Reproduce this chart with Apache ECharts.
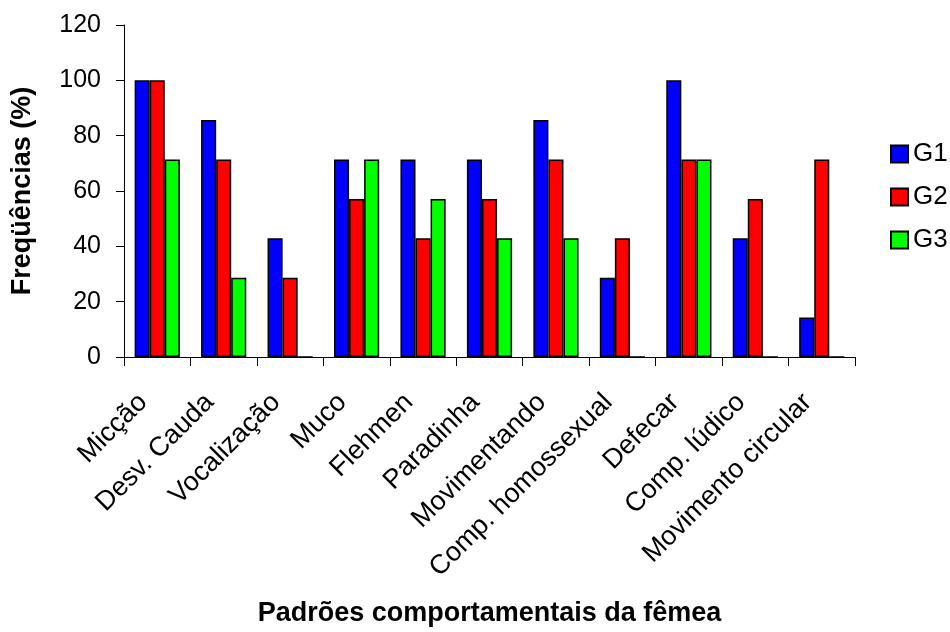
<!DOCTYPE html>
<html>
<head>
<meta charset="utf-8">
<script src="https://cdn.jsdelivr.net/npm/echarts@6/dist/echarts.min.js"></script>
<style>
  html, body { margin: 0; padding: 0; background: #fff; }
  #chart { width: 950px; height: 632px; }
</style>
</head>
<body>
<div id="chart"></div>
<script>
// Behaviour patterns observed in the females and their frequency (%) per group
const categories = [
  'Micção', 'Desv. Cauda', 'Vocalização', 'Muco', 'Flehmen', 'Paradinha',
  'Movimentando', 'Comp. homossexual', 'Defecar', 'Comp. lúdico', 'Movimento circular'
];
const groupNames = ['G1', 'G2', 'G3'];
const g1 = [100, 85.7, 42.9, 71.4, 71.4, 71.4, 85.7, 28.6, 100, 42.9, 14.3];
const g2 = [100, 71.4, 28.6, 57.1, 42.9, 57.1, 71.4, 42.9, 71.4, 57.1, 71.4];
const g3 = [71.4, 28.6, 0, 71.4, 57.1, 42.9, 42.9, 0, 71.4, 0, 0];
const yTicks = { min: 0, max: 120, interval: 20 };

const FONT = 'Liberation Sans, Arial, sans-serif';
const colors = ['#0000FF', '#FF0000', '#00FF00'];
const seriesValues = [g1, g2, g3];

const chart = echarts.init(document.getElementById('chart'), null, { renderer: 'canvas' });

chart.setOption({
  animation: false,
  backgroundColor: '#ffffff',
  grid: { left: 124, right: 95, top: 25, bottom: 275, containLabel: false },
  legend: {
    orient: 'vertical',
    left: 885,
    top: 136,
    itemWidth: 17,
    itemHeight: 17,
    itemGap: 17,
    icon: 'rect',
    textStyle: { fontFamily: FONT, fontSize: 26, color: '#000', lineHeight: 26, padding: [0, 0, 0, 0] },
    data: groupNames
  },
  xAxis: {
    type: 'category',
    data: categories,
    boundaryGap: true,
    name: 'Padrões comportamentais da fêmea',
    nameLocation: 'middle',
    nameGap: 243,
    nameTextStyle: { fontFamily: FONT, fontSize: 27, fontWeight: 'bold', color: '#000' },
    axisLine: { lineStyle: { color: '#000', width: 1 } },
    axisTick: { show: true, alignWithLabel: false, length: 9, lineStyle: { color: '#000' } },
    axisLabel: {
      rotate: 45,
      interval: 0,
      margin: 27,
      padding: [0, 20, 0, 0],
      fontFamily: FONT,
      fontSize: 27,
      color: '#000'
    }
  },
  yAxis: {
    type: 'value',
    min: yTicks.min,
    max: yTicks.max,
    interval: yTicks.interval,
    name: 'Freqüências (%)',
    nameLocation: 'middle',
    nameGap: 88,
    nameTextStyle: { fontFamily: FONT, fontSize: 27, fontWeight: 'bold', color: '#000' },
    axisLine: { show: true, lineStyle: { color: '#000', width: 1 } },
    axisTick: { show: true, length: 8, lineStyle: { color: '#000' } },
    axisLabel: { margin: 23, fontFamily: FONT, fontSize: 25, color: '#000' },
    splitLine: { show: false }
  },
  series: groupNames.map((name, i) => ({
    name: name,
    type: 'bar',
    data: seriesValues[i],
    barGap: '0%',
    barCategoryGap: '32%',
    itemStyle: { color: colors[i], borderColor: '#000', borderWidth: 1.5 }
  }))
});
</script>
</body>
</html>
